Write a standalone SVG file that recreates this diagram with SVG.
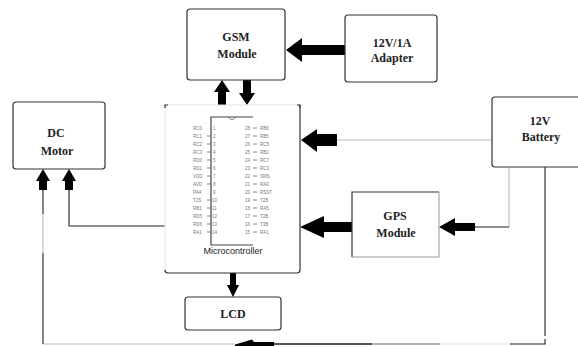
<svg xmlns="http://www.w3.org/2000/svg" width="578" height="347" viewBox="0 0 578 347">
<style>
.box{fill:#fff;stroke:#333;stroke-width:1.2}
.lbl{font-family:"Liberation Serif",serif;font-weight:bold;font-size:12px;fill:#222;text-anchor:middle}
.arr{fill:#000}
.ln{fill:none;stroke:#222;stroke-width:1.1}
.lt{fill:none;stroke:#bbb;stroke-width:1.1}
.pin{font-family:"Liberation Sans",sans-serif;font-size:4.5px;fill:#777}
.chip{fill:none;stroke:#444;stroke-width:1.2}
</style>
<rect width="578" height="347" fill="#fff"/>

<g id="connectors">
  <!-- adapter -> GSM -->
  <polygon class="arr" points="345,45 302,45 302,38 286,50 302,62 302,55 345,55"/>
  <!-- GSM <-> MCU -->
  <polygon class="arr" points="218,105 218,92 214,92 222,80 230,92 226,92 226,105"/>
  <polygon class="arr" points="243,80 243,93 239,93 247,105 255,93 251,93 251,80"/>
  <!-- battery -> MCU -->
  <line class="lt" x1="337" y1="140" x2="492" y2="140"/>
  <polygon class="arr" points="337,134 317,134 317,129 301,140 317,152 317,146 337,146"/>
  <!-- GPS -> MCU -->
  <polygon class="arr" points="352,222 324,222 324,216 300,227 324,238 324,232 352,232"/>
  <!-- battery -> GPS -->
  <polyline class="lt" points="509,167 509,227"/>
  <line class="ln" x1="509" y1="227" x2="475" y2="227"/>
  <polygon class="arr" points="475,223 455,223 455,218 439,227 455,236 455,231 475,231"/>
  <!-- MCU -> LCD -->
  <polygon class="arr" points="230,273 230,285 227,285 233,297 239,285 236,285 236,273"/>
  <!-- MCU -> DC motor -->
  <polyline class="ln" points="165,226 69,226 69,190"/>
  <polygon class="arr" points="65,190 65,181 62,181 69,169 76,181 73,181 73,190"/>
  <!-- battery -> DC motor (bottom loop) -->
  <polyline class="ln" points="545,167 545,336"/>
  <polyline class="ln" points="545,339 545,344 510,344"/>
  <line x1="510" y1="344" x2="440" y2="344" stroke="#ddd" stroke-width="1.2"/>
  <line x1="440" y1="344" x2="372" y2="344" stroke="#999" stroke-width="1.6"/>
  <line x1="372" y1="344" x2="274" y2="344" stroke="#555" stroke-width="2"/>
  <polygon class="arr" points="235,344.5 252,339.5 254,342 274,342 274,346 235,346"/>
  <line x1="235" y1="344" x2="43" y2="344" stroke="#bbb" stroke-width="1.1"/>
  <polyline class="ln" points="43,344 43,253"/>
  <line x1="43" y1="253" x2="43" y2="214" stroke="#bbb" stroke-width="1.1"/>
  <line class="ln" x1="43" y1="214" x2="43" y2="190"/>
  <polygon class="arr" points="39,190 39,181 36,181 43,169 50,181 47,181 47,190"/>
</g>

<g id="gsm">
  <rect class="box" x="187" y="9" width="98" height="71" rx="3"/>
  <text class="lbl" x="236" y="41">GSM</text>
  <text class="lbl" x="237" y="58">Module</text>
</g>

<g id="adapter">
  <rect class="box" x="345" y="15" width="92" height="67" rx="3"/>
  <text class="lbl" x="392" y="47">12V/1A</text>
  <text class="lbl" x="392" y="62">Adapter</text>
</g>

<g id="dcmotor">
  <rect class="box" x="13" y="102" width="92" height="67" rx="3"/>
  <text class="lbl" x="56" y="137">DC</text>
  <text class="lbl" x="57" y="155">Motor</text>
</g>

<g id="battery">
  <rect class="box" x="492" y="97" width="90" height="70" rx="3"/>
  <text class="lbl" x="540" y="125">12V</text>
  <text class="lbl" x="541" y="141">Battery</text>
</g>

<g id="gps">
  <rect x="352" y="192" width="87" height="65" rx="2" fill="#fff" stroke="none"/>
  <polyline points="352,257 352,192 439,192" fill="none" stroke="#333" stroke-width="1.2"/>
  <polyline points="439,192 439,257 352,257" fill="none" stroke="#999" stroke-width="1"/>
  <text class="lbl" x="395" y="220">GPS</text>
  <text class="lbl" x="396" y="237">Module</text>
</g>

<g id="lcd">
  <rect class="box" x="185" y="297" width="96" height="33" rx="3"/>
  <text class="lbl" x="233" y="318" font-size="11">LCD</text>
</g>

<g id="microcontroller">
  <polyline points="165,272 165,105 300,105" fill="none" stroke="#e4e4e4" stroke-width="1"/>
  <path d="M165,108 V105 H168 M297,105 H300 V108" fill="none" stroke="#333" stroke-width="1.2"/>
  <path d="M300,105 V270 Q300,273 297,273 H168 Q165,273 165,270" fill="none" stroke="#333" stroke-width="1.2"/>
  <polyline class="chip" points="253,117 211,117 211,245 253,245"/>
  <path d="M228,117 Q232,122 236,117" fill="none" stroke="#666" stroke-width="0.8"/>
  <g class="pin">
    <text x="193" y="130">RC0</text><text x="193" y="138">RC1</text><text x="193" y="146">RC2</text><text x="193" y="154">RC3</text>
    <text x="193" y="162">RD0</text><text x="193" y="170">RD1</text><text x="193" y="178">VDD</text><text x="193" y="186">AVD</text>
    <text x="193" y="194">PA4</text><text x="193" y="202">T2S</text><text x="193" y="210">RB1</text><text x="193" y="218">RD5</text>
    <text x="193" y="226">RD6</text><text x="193" y="234">RA1</text>
    <text x="213" y="130">1</text><text x="213" y="138">2</text><text x="213" y="146">3</text><text x="213" y="154">4</text>
    <text x="213" y="162">5</text><text x="213" y="170">6</text><text x="213" y="178">7</text><text x="213" y="186">8</text>
    <text x="213" y="194">9</text><text x="212" y="202">10</text><text x="212" y="210">11</text><text x="212" y="218">12</text>
    <text x="212" y="226">13</text><text x="212" y="234">14</text>
    <text x="245" y="130">28</text><text x="245" y="138">27</text><text x="245" y="146">26</text><text x="245" y="154">25</text>
    <text x="245" y="162">24</text><text x="245" y="170">23</text><text x="245" y="178">22</text><text x="245" y="186">21</text>
    <text x="245" y="194">20</text><text x="245" y="202">19</text><text x="245" y="210">18</text><text x="245" y="218">17</text>
    <text x="245" y="226">16</text><text x="245" y="234">15</text>
    <text x="260" y="130">RB6</text><text x="260" y="138">RB5</text><text x="260" y="146">RC5</text><text x="260" y="154">RB2</text>
    <text x="260" y="162">RC7</text><text x="260" y="170">RC3</text><text x="260" y="178">SMS</text><text x="260" y="186">RA0</text>
    <text x="260" y="194">RSST</text><text x="260" y="202">T2B</text><text x="260" y="210">RA5</text><text x="260" y="218">T2B</text>
    <text x="260" y="226">T3B</text><text x="260" y="234">RA1</text>
  </g>
  <g stroke="#666" stroke-width="0.8" fill="none">
    <path d="M207,136 H211 M207,144 H211 M207,152 H211 M207,160 H211 M207,168 H211 M207,176 H211 M207,184 H211 M207,200 H211 M207,208 H211 M207,216 H211 M207,224 H211 M207,232 H211"/>
    <path d="M253,128 H257 M253,136 H257 M253,144 H257 M253,152 H257 M253,160 H257 M253,168 H257 M253,176 H257 M253,184 H257 M253,192 H257 M253,200 H257 M253,208 H257 M253,216 H257 M253,224 H257 M253,232 H257"/>
  </g>
  <text x="233" y="254" font-family="Liberation Sans, sans-serif" font-size="9" fill="#222" text-anchor="middle">Microcontroller</text>
</g>
</svg>
